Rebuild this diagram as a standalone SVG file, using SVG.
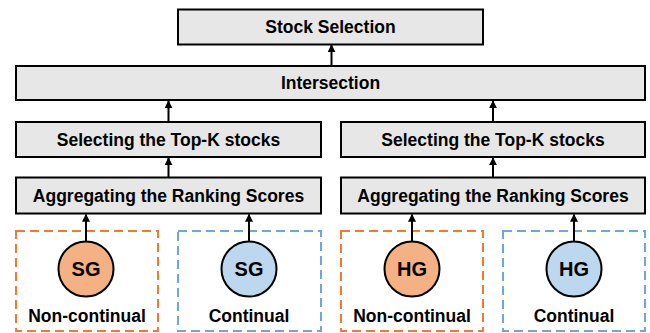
<svg xmlns="http://www.w3.org/2000/svg" width="650" height="333" viewBox="0 0 650 333">
<defs>
<marker id="ah" viewBox="0 0 10 10" refX="9" refY="5" markerWidth="4" markerHeight="4" orient="auto" markerUnits="strokeWidth">
<path d="M0,0 L10,5 L0,10 z" fill="#000"/>
</marker>
<style>
.box{fill:#e7e7e7;stroke:#000;stroke-width:2}
.t{font-family:"Liberation Sans",Arial,sans-serif;font-weight:bold;font-size:17.5px;text-anchor:middle;fill:#000}
.c{font-size:20px}
.dor{fill:none;stroke:#ee7b30;stroke-width:2;stroke-dasharray:9,5}
.dbl{fill:none;stroke:#6fa6dc;stroke-width:2;stroke-dasharray:9,5}
.co{fill:#f4b183;stroke:#000;stroke-width:2}
.cb{fill:#bdd7ee;stroke:#000;stroke-width:2}
.a{stroke:#000;stroke-width:2;fill:none;marker-end:url(#ah)}
</style>
</defs>
<g id="stock-selection"><rect class="box" x="178" y="9.5" width="305" height="35"/><text class="t" x="330.5" y="33">Stock Selection</text></g>
<g id="intersection"><rect class="box" x="16" y="66" width="629" height="34"/><text class="t" x="330.5" y="89">Intersection</text></g>
<g id="select-left"><rect class="box" x="16" y="122" width="305" height="35"/><text class="t" x="168.5" y="146">Selecting the Top-K stocks</text></g>
<g id="select-right"><rect class="box" x="341" y="122" width="304" height="35"/><text class="t" x="493" y="146">Selecting the Top-K stocks</text></g>
<g id="agg-left"><rect class="box" x="16" y="177.5" width="305" height="36"/><text class="t" x="168.5" y="202">Aggregating the Ranking Scores</text></g>
<g id="agg-right"><rect class="box" x="341" y="177.5" width="304" height="36"/><text class="t" x="493" y="202">Aggregating the Ranking Scores</text></g>
<g id="sg-noncont"><rect class="dor" x="16" y="231" width="142" height="100"/><circle class="co" cx="86" cy="269" r="27.5"/><text class="t c" x="86" y="276">SG</text><text class="t" x="87" y="322">Non-continual</text></g>
<g id="sg-cont"><rect class="dbl" x="178" y="231" width="143" height="100"/><circle class="cb" cx="249" cy="269" r="27.5"/><text class="t c" x="249" y="276">SG</text><text class="t" x="249" y="322">Continual</text></g>
<g id="hg-noncont"><rect class="dor" x="341" y="231" width="142" height="100"/><circle class="co" cx="412" cy="269" r="27.5"/><text class="t c" x="412" y="276">HG</text><text class="t" x="412" y="322">Non-continual</text></g>
<g id="hg-cont"><rect class="dbl" x="503" y="231" width="142" height="100"/><circle class="cb" cx="574" cy="269" r="27.5"/><text class="t c" x="574" y="276">HG</text><text class="t" x="574" y="322">Continual</text></g>
<g id="connectors">
<line class="a" x1="86" y1="241.5" x2="86" y2="214.5"/>
<line class="a" x1="249" y1="241.5" x2="249" y2="214.5"/>
<line class="a" x1="412" y1="241.5" x2="412" y2="214.5"/>
<line class="a" x1="574" y1="241.5" x2="574" y2="214.5"/>
<line class="a" x1="168.5" y1="177" x2="168.5" y2="158"/>
<line class="a" x1="493" y1="177" x2="493" y2="158"/>
<line class="a" x1="168.5" y1="121.5" x2="168.5" y2="101"/>
<line class="a" x1="493" y1="121.5" x2="493" y2="101"/>
<line class="a" x1="331.5" y1="65.5" x2="331.5" y2="45"/>
</g>
</svg>
